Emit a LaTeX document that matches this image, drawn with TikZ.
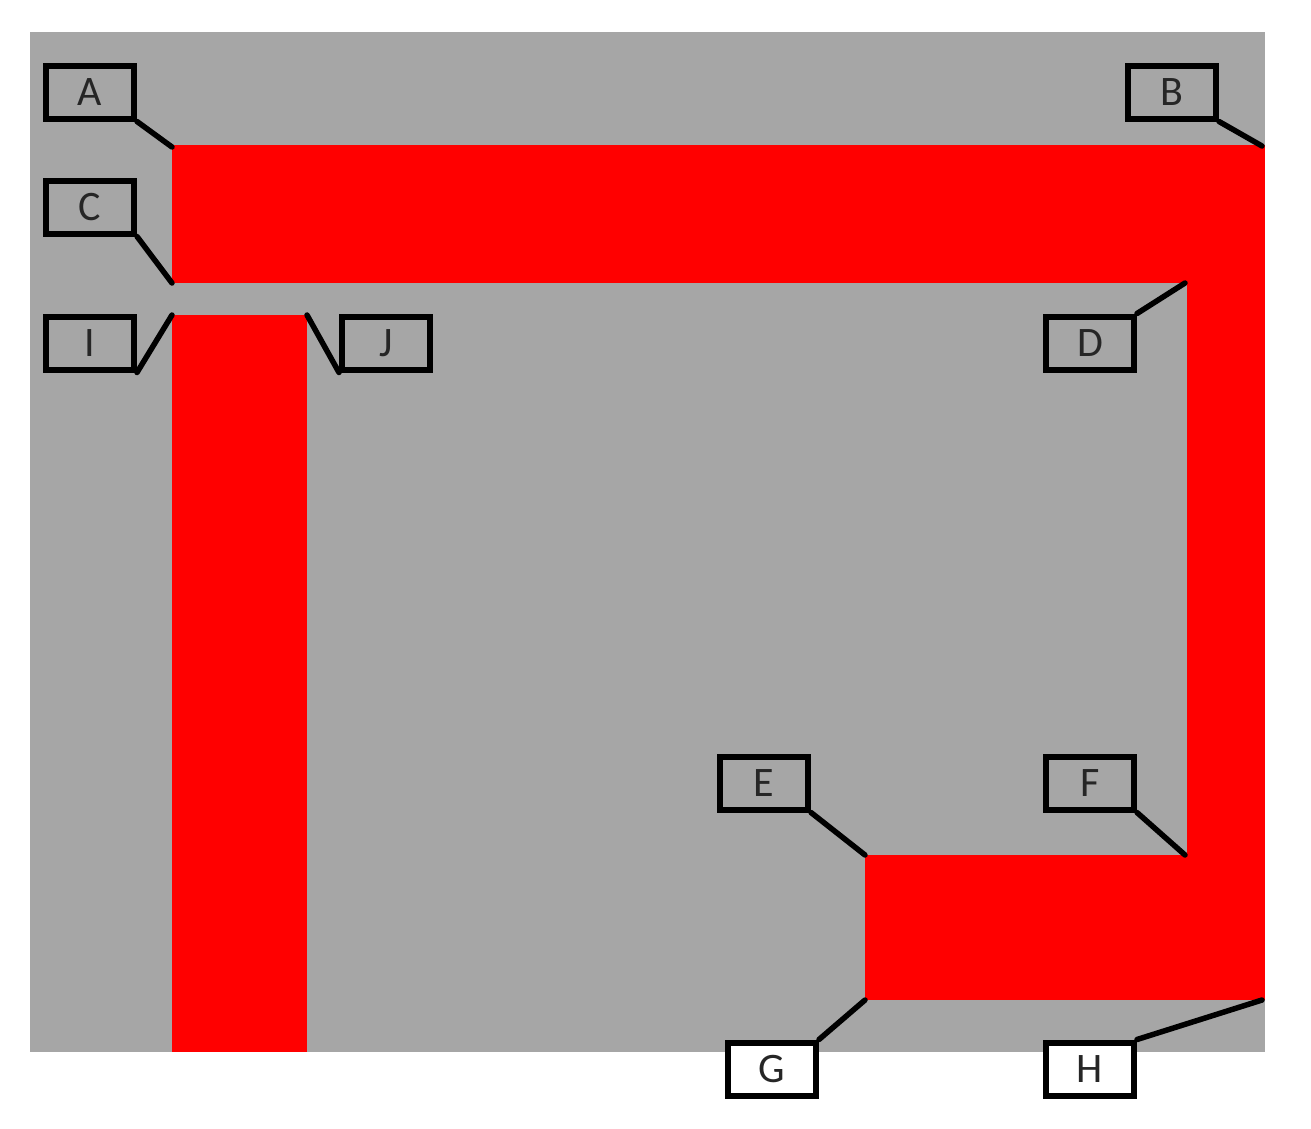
\documentclass[tikz,border=0pt]{standalone}
\usepackage{fontspec}
\setmainfont{Carlito}
\usetikzlibrary{calc}
\definecolor{plate}{HTML}{A6A6A6}
\definecolor{track}{HTML}{FF0000}

\begin{document}
\begin{tikzpicture}[x=1pt, y=-1pt,
  tag/.style={draw=black, line width=6pt, minimum width=88pt, minimum height=53pt,
    inner sep=0pt, font=\fontsize{42}{42}\selectfont, text=black!85},
  lead/.style={line width=5.5pt, line cap=round}]

\useasboundingbox (0,0) rectangle (1311,1128);

% plate and tracks
\fill [plate] (30,32) rectangle (1265,1052);
\fill [track] (172,145) rectangle (1265,283);
\fill [track] (1187,145) rectangle (1265,1000);
\fill [track] (865,855) rectangle (1265,1000);
\fill [track] (172,315) rectangle (307,1052);

% corners of the tracks
\coordinate (a) at (172,147);
\coordinate (b) at (1262,146);
\coordinate (c) at (172,283);
\coordinate (d) at (1185,283);
\coordinate (e) at (865,855);
\coordinate (f) at (1185,855);
\coordinate (g) at (865,1000);
\coordinate (h) at (1262,1000);
\coordinate (i) at (172,315);
\coordinate (j) at (307,315);

% labels
\foreach \l/\x/\y in {A/90/92, B/1172/92, C/90/207, D/1090/343, E/764/783,
                      F/1090/783, I/90/343, J/386/343}
  \node [tag] (tag-\l) at (\x,\y) {\l};

\foreach \l/\x/\y in {G/772/1069, H/1090/1069}
  \node [tag, fill=white] (tag-\l) at (\x,\y) {\l};

% leads
\foreach \l/\c/\k in {A/a/south east, B/b/south east, C/c/south east,
                      E/e/south east, F/f/south east, I/i/south east,
                      J/j/south west, D/d/north east, G/g/north east,
                      H/h/north east}
  \draw [lead] (tag-\l.\k) -- (\c);

\end{tikzpicture}
\end{document}
